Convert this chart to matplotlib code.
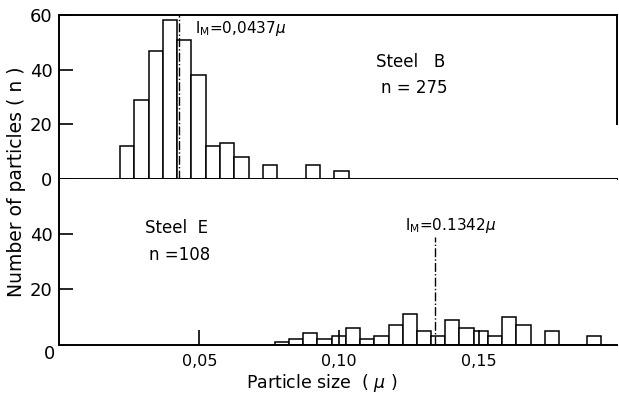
import matplotlib
matplotlib.use('Agg')
import matplotlib.pyplot as plt

# Steel B (upper) - bin left edges and counts
b_edges = [0.0217, 0.0268, 0.0319, 0.0370, 0.0421, 0.0472, 0.0523, 0.0574, 0.0625,
           0.0727, 0.0880, 0.0982]
b_counts = [12, 29, 47, 58, 51, 38, 12, 13, 8, 5, 5, 3]
b_median = 0.0428
b_median_label = r'l$_{\rm M}$=0,0437$\mu$'

# Steel E (lower)
e_edges = [0.0770, 0.0821, 0.0871, 0.0922, 0.0973, 0.1024, 0.1074, 0.1125, 0.1176,
           0.1226, 0.1277, 0.1328, 0.1378, 0.1429, 0.1480, 0.1531, 0.1581, 0.1632,
           0.1683, 0.1733, 0.1784, 0.1835, 0.1885]
e_counts = [1, 2, 4, 2, 3, 6, 2, 3, 7, 11, 5, 3, 9, 6, 5, 3, 10, 7, 0, 5, 0, 0, 3]
e_median = 0.1342
e_median_label = r'l$_{\rm M}$=0.1342$\mu$'

bin_w = 0.0051
x_ticks = [0.05, 0.10, 0.15]
x_ticklabels = ['0,05', '0,10', '0,15']

fig = plt.figure(figsize=(6.19, 3.94), dpi=100)
ax1 = fig.add_axes([0.0958, 0.5457, 0.901, 0.4162])
ax2 = fig.add_axes([0.0958, 0.1256, 0.901, 0.4201])

for ax in (ax1, ax2):
    ax.set_xlim(0, 0.1992)
    ax.set_ylim(0, 60)
    for s in ax.spines.values():
        s.set_linewidth(1.4)

# upper panel
ax1.bar(b_edges, b_counts, width=bin_w, align='edge', facecolor='white',
        edgecolor='black', linewidth=1.1)
ax1.plot([b_median, b_median], [0, 60], color='black', lw=1.0, ls='-.')
ax1.spines['right'].set_bounds(20, 60)
ax1.set_yticks([0, 20, 40, 60])
ax1.tick_params(axis='y', direction='in', length=10, width=1.2, labelsize=13, pad=5)
ax1.tick_params(axis='x', bottom=False, labelbottom=False)
ax1.text(0.0485, 55.2, b_median_label, fontsize=11, ha='left', va='center')
ax1.text(0.1256, 42.8, 'Steel   B', fontsize=12, ha='center', va='center')
ax1.text(0.1269, 33.3, 'n = 275', fontsize=12, ha='center', va='center')

# lower panel
ax2.bar(e_edges, e_counts, width=bin_w, align='edge', facecolor='white',
        edgecolor='black', linewidth=1.1)
ax2.plot([e_median, e_median], [0, 38.8], color='black', lw=1.0, ls='-.')
ax2.spines['top'].set_visible(False)
ax2.spines['right'].set_visible(False)
ax2.set_yticks([20, 40])
ax2.set_xticks(x_ticks)
ax2.set_xticklabels(x_ticklabels)
ax2.tick_params(axis='y', direction='in', length=10, width=1.2, labelsize=13, pad=5)
ax2.tick_params(axis='x', direction='in', length=11, width=1.2, labelsize=11.5, pad=7)
ax2.text(-0.0035, -3.3, '0', fontsize=13, ha='center', va='center')
ax2.text(0.1399, 43.2, e_median_label, fontsize=11, ha='center', va='center')
ax2.text(0.0417, 42.4, 'Steel  E', fontsize=12, ha='center', va='center')
ax2.text(0.0429, 32.6, 'n =108', fontsize=12, ha='center', va='center')

fig.text(322 / 619, 1 - 383 / 394, 'Particle size  ( $\\mu$ )', fontsize=12.5,
         ha='center', va='center')
fig.text(17 / 619, 1 - 182 / 394, 'Number of particles ( n )', fontsize=13.5,
         ha='center', va='center', rotation=90)

fig.savefig('out.png', dpi=100)
